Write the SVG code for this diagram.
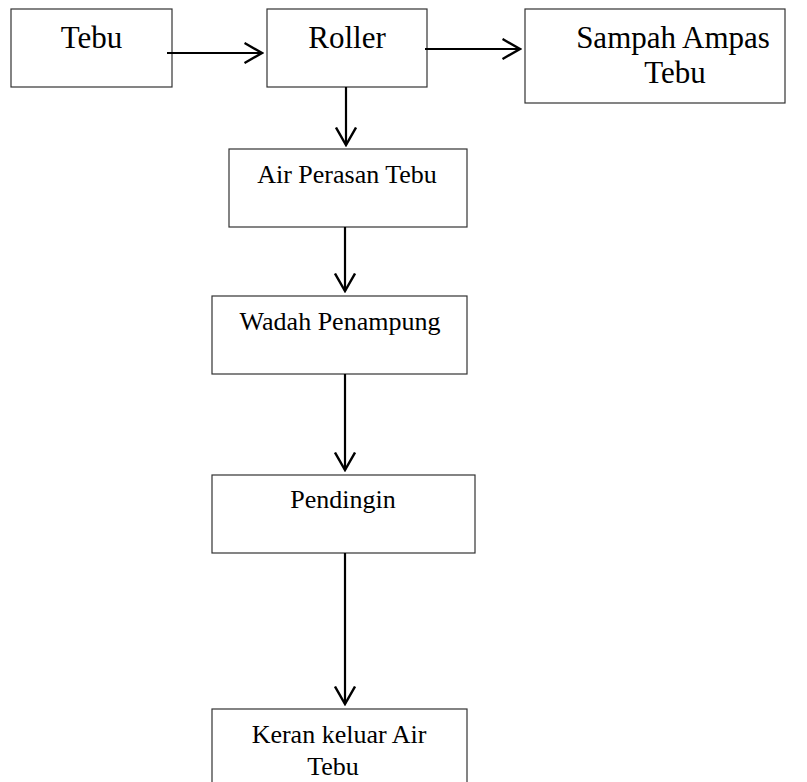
<svg xmlns="http://www.w3.org/2000/svg" width="807" height="782" viewBox="0 0 807 782">
<style>
.box{fill:#fff;stroke:#333;stroke-width:1.2}
.t{font-family:"Liberation Serif","Times New Roman",serif;fill:#000;text-anchor:middle}
.big{font-size:31px}
.sm{font-size:26px}
.conn line{stroke:#000;stroke-width:2.2;fill:none;marker-end:url(#arr)}
</style>
<defs>
<marker id="arr" viewBox="0 0 20 22" refX="18.5" refY="11" markerWidth="20" markerHeight="22" markerUnits="userSpaceOnUse" orient="auto">
<path d="M1,1 L18.5,11 L1,21" fill="none" stroke="#000" stroke-width="2.4"/>
</marker>
</defs>
<rect width="807" height="782" fill="#fff"/>
<g id="tebu"><rect class="box" x="11" y="9" width="161" height="78"/><text class="t big" x="91.5" y="48">Tebu</text></g>
<g id="roller"><rect class="box" x="267" y="9" width="160" height="78"/><text class="t big" x="347" y="48">Roller</text></g>
<g id="sampah"><rect class="box" x="525" y="9" width="260" height="94"/><text class="t big" x="673" y="48">Sampah Ampas</text><text class="t big" x="675" y="83">Tebu</text></g>
<g id="air"><rect class="box" x="229" y="149" width="238" height="78"/><text class="t sm" x="347" y="183">Air Perasan Tebu</text></g>
<g id="wadah"><rect class="box" x="212" y="296" width="255" height="78"/><text class="t sm" x="340" y="330">Wadah Penampung</text></g>
<g id="pendingin"><rect class="box" x="212" y="475" width="263" height="78"/><text class="t sm" x="343" y="508">Pendingin</text></g>
<g id="keran"><rect class="box" x="212" y="709" width="255" height="90"/><text class="t sm" x="339" y="743">Keran keluar Air</text><text class="t sm" x="333" y="775">Tebu</text></g>
<g id="connectors" class="conn">
<line x1="167" y1="53" x2="262" y2="53"/>
<line x1="425" y1="49" x2="520" y2="49"/>
<line x1="346" y1="87" x2="346" y2="145"/>
<line x1="345" y1="227" x2="345" y2="291"/>
<line x1="345" y1="374" x2="345" y2="470"/>
<line x1="345" y1="553" x2="345" y2="704"/>
</g>
</svg>
